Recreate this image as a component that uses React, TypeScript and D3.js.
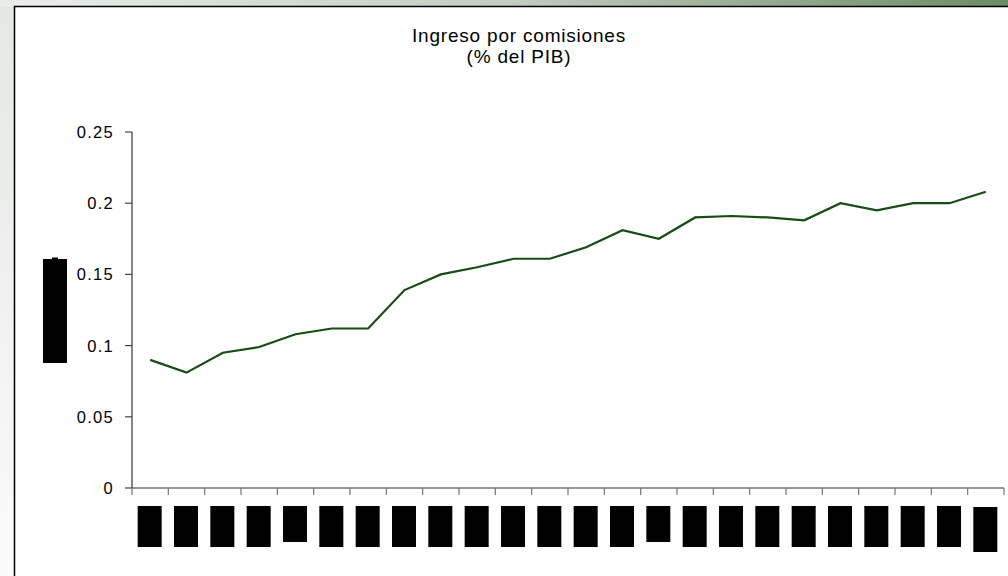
import React from "react";
import * as d3 from "d3";

// ---- Data ----
const categories: string[] = [
  "c01", "c02", "c03", "c04", "c05", "c06", "c07", "c08",
  "c09", "c10", "c11", "c12", "c13", "c14", "c15", "c16",
  "c17", "c18", "c19", "c20", "c21", "c22", "c23", "c24",
];
const values: number[] = [
  0.090, 0.081, 0.095, 0.099, 0.108, 0.112, 0.112, 0.139,
  0.150, 0.155, 0.161, 0.161, 0.169, 0.181, 0.175, 0.190,
  0.191, 0.190, 0.188, 0.200, 0.195, 0.200, 0.200, 0.208,
];
const yTicks: number[] = [0, 0.05, 0.1, 0.15, 0.2, 0.25];
const yTickLabels: string[] = ["0", "0.05", "0.1", "0.15", "0.2", "0.25"];
const titleLines: string[] = ["Ingreso por comisiones", "(% del PIB)"];

const W = 1008;
const H = 576;
const FONT = "'Liberation Sans', Arial, sans-serif";

export default function App() {
  const x = d3.scaleBand<string>().domain(categories).range([132, 1004]).padding(0);
  const y = d3.scaleLinear().domain([0, 0.25]).range([488, 132]);
  const line = d3
    .line<number>()
    .x((_, i) => (x(categories[i]) as number) + x.bandwidth() / 2)
    .y((d) => y(d));

  const boundaries = categories.map((c) => x(c) as number).concat([x.range()[1]]);

  // redacted (unreadable) category labels: box height varies per label
  const boxH = (i: number) => (i === 4 || i === 14 ? 36 : i === categories.length - 1 ? 45 : 41);

  return (
    <svg
      width={W}
      height={H}
      style={{ position: "absolute", left: 0, top: 0, display: "block" }}
      fontFamily={FONT}
    >
      <defs>
        <linearGradient id="topBand" x1="0" y1="0" x2="1" y2="0">
          <stop offset="0" stopColor="#ebedeb" />
          <stop offset="0.5" stopColor="#c4cdc2" />
          <stop offset="1" stopColor="#6b8c64" />
        </linearGradient>
        <linearGradient id="leftBand" x1="0" y1="0" x2="0" y2="1">
          <stop offset="0" stopColor="#e4e7e4" />
          <stop offset="1" stopColor="#fbfbfb" />
        </linearGradient>
      </defs>
      <rect x={0} y={0} width={W} height={H} fill="url(#leftBand)" />
      <rect x={0} y={0} width={W} height={7} fill="url(#topBand)" />
      <rect x={14.5} y={6.5} width={W} height={H} fill="#ffffff" stroke="#000" strokeWidth={1.5} />

      {/* Title */}
      <g fontSize={19} fill="#000" textAnchor="middle" letterSpacing={0.8}>
        {titleLines.map((t, i) => (
          <text key={i} x={519} y={41.5 + i * 21.5}>
            {t}
          </text>
        ))}
      </g>

      {/* Y axis */}
      <line x1={132} x2={132} y1={y(0.25)} y2={y(0)} stroke="#333" strokeWidth={1.2} />
      {yTicks.map((t, i) => (
        <g key={i}>
          <line x1={125} x2={132} y1={y(t)} y2={y(t)} stroke="#444" strokeWidth={1.2} />
          <text x={114} y={y(t)} dy="0.36em" fontSize={16.5} textAnchor="end" letterSpacing={1.3} fill="#000">
            {yTickLabels[i]}
          </text>
        </g>
      ))}

      {/* X axis */}
      <line x1={132} x2={x.range()[1]} y1={y(0)} y2={y(0)} stroke="#333" strokeWidth={1.2} />
      {boundaries.map((b, i) => (
        <line key={i} x1={b} x2={b} y1={y(0)} y2={y(0) + 7} stroke="#777" strokeWidth={1.2} />
      ))}

      {/* redacted category labels */}
      {categories.map((c, i) => (
        <rect
          key={c}
          x={(x(c) as number) + x.bandwidth() / 2 - 12.5}
          y={i === categories.length - 1 ? 507 : 506}
          width={24}
          height={boxH(i)}
          fill="#000"
        />
      ))}

      {/* redacted y-axis title */}
      <rect x={43} y={259} width={24} height={104} fill="#000" />
      <rect x={52} y={257.5} width={6} height={2} fill="#000" />

      {/* Series line */}
      <path d={line(values) || ""} fill="none" stroke="#154d15" strokeWidth={2.2} strokeLinejoin="miter" />
    </svg>
  );
}
